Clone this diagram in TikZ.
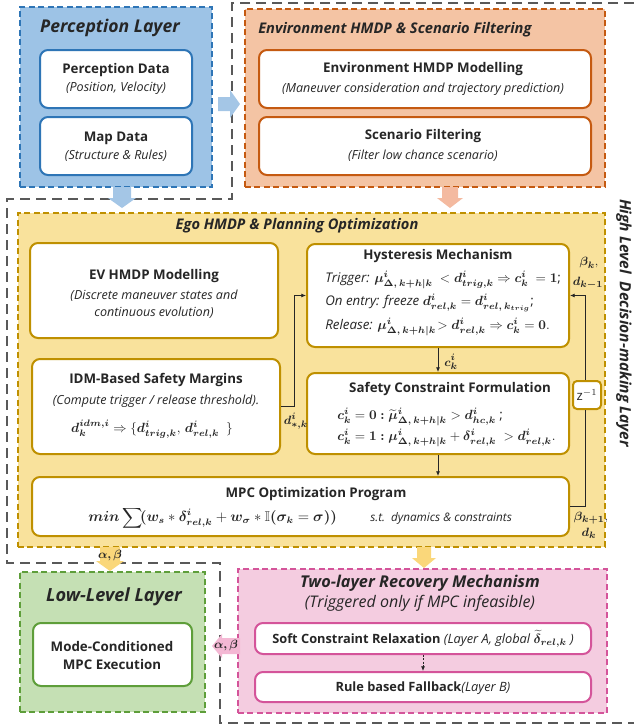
\documentclass[tikz,border=0pt]{standalone}
\usepackage{amsmath,amssymb,bm}
\usepackage[no-math]{fontspec}
\setmainfont{Open Sans}
\usetikzlibrary{fit,arrows.meta}
\definecolor{txt}{HTML}{262626}
\definecolor{bluefill}{HTML}{9DC3E6}
\definecolor{blueline}{HTML}{2E75B6}
\definecolor{bluearr}{HTML}{A4C6E6}
\definecolor{envfill}{HTML}{F4C4A4}
\definecolor{envline}{HTML}{C55A11}
\definecolor{envarr}{HTML}{F4BAA0}
\definecolor{egofill}{HTML}{F9E29C}
\definecolor{egoline}{HTML}{BF9000}
\definecolor{egoarr}{HTML}{FAD77A}
\definecolor{lowfill}{HTML}{C5E0B4}
\definecolor{lowline}{HTML}{5E9E3A}
\definecolor{recfill}{HTML}{F4CCE0}
\definecolor{recline}{HTML}{D4549A}
\definecolor{recarr}{HTML}{F4B8D4}
\definecolor{hlgray}{HTML}{595959}
\newcommand\dnarr[6]{% x, ytop, ytip, halfbody, halfhead, color
  \fill[#6] ({#1-#4},#2) -- ({#1+#4},#2) -- ({#1+#4},{#3-10}) -- ({#1+#5},{#3-10}) -- (#1,#3)
    -- ({#1-#5},{#3-10}) -- ({#1-#4},{#3-10}) -- cycle;}
\begin{document}
\begin{tikzpicture}[x=0.75pt,y=-0.75pt,
  layerbox/.style 2 args={draw=#1, fill=#2, dash pattern=on 4.5pt off 2.6pt, line width=1.5pt, inner sep=0pt},
  innerbox/.style={draw=#1, fill=white, rounded corners=6pt, line width=1.5pt, inner sep=0pt},
  lt/.style={font=\fontsize{13.2}{15}\selectfont\bfseries\itshape, text=txt, inner sep=0pt},
  bt/.style={font=\fontsize{10}{12}\selectfont\bfseries, text=txt, inner sep=0pt},
  st/.style={font=\fontsize{9.4}{11}\selectfont\itshape, text=txt, inner sep=0pt},
  mt/.style={font=\fontsize{10}{11}\selectfont, text=txt, inner sep=0pt},
  lab/.style={font=\fontsize{9.5}{11}\selectfont, text=txt, inner sep=0pt},
  conn/.style={draw=txt, line width=0.6pt, -{Latex[length=3.5pt,width=3pt]}},
  hl/.style={draw=hlgray, line width=1.9pt, dash pattern=on 7.5pt off 4.5pt}]
\useasboundingbox (0,0) rectangle (634,726);

% high level outline
\draw[hl] (634,3) -- (232,3) -- (232,199) -- (7,199) -- (7,563) -- (220,563) -- (220,723) -- (634,723);

% Perception layer
\node[layerbox={blueline}{bluefill}, fit={(20,7) (212,187)}] (perc) {};
\node[lt] (perct) at (110,28) {Perception Layer};
\node[innerbox=blueline, fit={(40,50) (192,108)}] (pd) {};
\node[bt] (pdt) at (116,70) {Perception Data};
\node[st] (pds) at (116,88) {(Position, Velocity)};
\node[innerbox=blueline, fit={(40,117) (192,175)}] (md) {};
\node[bt] (mdt) at (116,138) {Map Data};
\node[st] (mds) at (116,156) {(Structure \& Rules)};

% Environment
\node[layerbox={envline}{envfill}, fit={(245,9) (605,187)}] (env) {};
\node[lt, anchor=west, font=\fontsize{11}{13}\selectfont\bfseries\itshape] (envt) at (258,30) {Environment HMDP \& Scenario Filtering};
\node[innerbox=envline, fit={(259,50) (591,108)}] (em) {};
\node[bt] (emt) at (423,69) {Environment HMDP Modelling};
\node[st] (ems) at (423,89) {(Maneuver consideration and trajectory prediction)};
\node[innerbox=envline, fit={(259,117) (591,175)}] (sf) {};
\node[bt] (sft) at (423,136) {Scenario Filtering};
\node[st] (sfs) at (423,156) {(Filter low chance scenario)};

% Ego
\node[layerbox={egoline}{egofill}, fit={(18,213) (605,547)}] (ego) {};
\node[lt, font=\fontsize{11}{13}\selectfont\bfseries\itshape] (egot) at (297,226) {Ego HMDP \& Planning Optimization};
\node[innerbox=egoline, fit={(30,243) (278,338)}] (ev) {};
\node[bt] (evt) at (154,276) {EV HMDP Modelling};
\node[st] (evs1) at (154,296) {(Discrete maneuver states and};
\node[st] (evs2) at (154,313) {continuous evolution)};
\node[innerbox=egoline, fit={(32,359) (280,454)}] (idm) {};
\node[bt] (idmt) at (156,380) {IDM-Based Safety Margins};
\node[st] (idms) at (156,401) {(Compute trigger / release threshold).};
\node[mt] (idmf) at (152,429) {$\bm{d^{idm,i}_{k}} \Rightarrow \{\bm{d^{i}_{trig,k}},\, \bm{d^{i}_{rel,k}}\ \ \}$};
\node[innerbox=egoline, fit={(307,244) (569,347)}] (hy) {};
\node[bt] (hyt) at (438,256) {Hysteresis Mechanism};
\node[mt, anchor=west] (hy1) at (325,280) {\textit{Trigger:} $\bm{\mu^{i}_{\Delta,\,k+h|k}}\ < \bm{d^{i}_{trig,k}} \Rightarrow \bm{c^{i}_{k}}\ = \bm{1}$;};
\node[mt, anchor=west] (hy2) at (325,303) {\textit{On entry: freeze} $\bm{d^{i}_{rel,k}} = \bm{d^{i}_{rel,\,k_{trig}}}$;};
\node[mt, anchor=west] (hy3) at (325,327) {\textit{Release:} $\bm{\mu^{i}_{\Delta,\,k+h|k}}\!> \bm{d^{i}_{rel,k}} \Rightarrow \bm{c^{i}_{k}} = \bm{0}.$};
\node[innerbox=egoline, fit={(307,373) (569,454)}] (sc) {};
\node[bt] (sct) at (450,389) {Safety Constraint Formulation};
\node[mt, anchor=west] (sc1) at (337,417) {$\bm{c^{i}_{k}} = \bm{0:}\bm{\widetilde{\mu}^{i}_{\Delta,\,k+h|k}} > \bm{d^{i}_{hc,k}}$ ;};
\node[mt, anchor=west] (sc2) at (337,438) {$\bm{c^{i}_{k}} = \bm{1:}\bm{\mu^{i}_{\Delta,\,k+h|k}} + \bm{\delta^{i}_{rel,k}}\ > \bm{d^{i}_{rel,k}}.$};
\node[innerbox=egoline, fit={(32,477) (569,536)}] (mpc) {};
\node[bt] (mpct) at (316,494) {MPC Optimization Program};
\node[mt, anchor=west, font=\fontsize{10.6}{12}\selectfont] (mpcf) at (88,518) {$\bm{min}\displaystyle\sum\!\bm{(}\bm{w_{s}} * \bm{\delta^{i}_{rel,k}} + \bm{w_{\sigma}} * \mathbb{I}\bm{(}\bm{\sigma_{k}} = \bm{\sigma}\bm{))}$};
\node[st, anchor=west, font=\fontsize{8.8}{10}\selectfont\itshape] (mpcs) at (370,518) {s.t.\ \ dynamics \& constraints};

% connectors inside ego
\draw[conn] (idm.east) -- ++(13,0) |- (hy.west);
\node[lab] (dl) at (296,421) {$\bm{d^{i}_{*,k}}$};
\draw[conn] (hy.south) -- (sc.north);
\node[lab] (cl) at (451,362) {$\bm{c^{i}_{k}}$};
\draw[conn] (sc.south) -- (sc.south |- mpc.north);
\node[innerbox=egoline, rounded corners=3pt, fit={(573,381) (601,409)}] (z) {};
\node[font=\fontsize{10}{12}\selectfont\rmfamily, text=txt] (zt) at (587,395) {z$^{-1}$};
\draw[draw=txt, line width=0.6pt] (mpc.east |- 0,506) -- (585,506) -- (z.south -| 585,0);
\draw[conn] (z.north -| 585,0) |- (hy.east);
\node[lab] (bl1) at (589,263) {$\bm{\beta_{k}},$};
\node[lab] (bl2) at (588,283) {$\bm{d_{k-1}}$};
\node[lab] (bl3) at (591,518) {$\bm{\beta_{k+1}},$};
\node[lab] (bl4) at (589,533) {$\bm{d_{k}}$};

% Low level
\node[layerbox={lowline}{lowfill}, fit={(20,572) (205,712)}] (low) {};
\node[lt, font=\fontsize{13.6}{15}\selectfont\bfseries\itshape] (lowt) at (114,597) {Low-Level Layer};
\node[innerbox=lowline, fit={(33,623) (192,686)}] (mc) {};
\node[bt] (mct1) at (112,646) {Mode-Conditioned};
\node[bt] (mct2) at (112,664) {MPC Execution};

% Recovery
\node[layerbox={recline}{recfill}, fit={(238,569) (607,713)}] (rec) {};
\node[lt, font=\fontsize{12.2}{14}\selectfont\bfseries\itshape] (rect) at (420,583) {Two-layer Recovery Mechanism};
\node[st, font=\fontsize{12}{14}\selectfont\itshape] (recs) at (420,603) {(Triggered only if MPC infeasible)};
\node[innerbox=recline, fit={(255,623) (591,654)}] (sr) {};
\node[mt, font=\fontsize{9.6}{11}\selectfont] (srt) at (423,639) {\textbf{Soft Constraint Relaxation} \textit{(Layer A, global $\bm{\widetilde{\delta}_{rel,k}}$ )}};
\node[innerbox=recline, fit={(255,672) (591,702)}] (rb) {};
\node[mt, font=\fontsize{9.6}{11}\selectfont] (rbt) at (423,688) {\textbf{Rule based Fallback}\textit{(Layer B)}};
\draw[conn, dash pattern=on 1.5pt off 1pt] (sr.south) -- (rb.north);

% block arrows
\dnarr{122}{187}{208}{9}{14}{bluearr}
\dnarr{450}{187}{208}{8}{13}{envarr}
\dnarr{110}{547}{571}{10}{14}{egoarr}
\dnarr{424}{547}{568}{7}{12}{egoarr}
\fill[bluearr] (218,97) -- (230,97) -- (230,90) -- (240,104) -- (230,118) -- (230,111) -- (218,111) -- cycle;
\fill[recarr] (240,638) -- (222,638) -- (222,634) -- (212,646) -- (222,658) -- (222,654) -- (240,654) -- cycle;
\node[lab] (ab1) at (110,555) {$\bm{\alpha,\beta}$};
\node[lab] (ab2) at (226,645) {$\bm{\alpha,\beta}$};

% side label
\node[lt, font=\fontsize{11.6}{14}\selectfont\bfseries\itshape, rotate=-90] (side) at (624,323) {High Level\ \ Decision-making Layer};
\end{tikzpicture}
\end{document}
